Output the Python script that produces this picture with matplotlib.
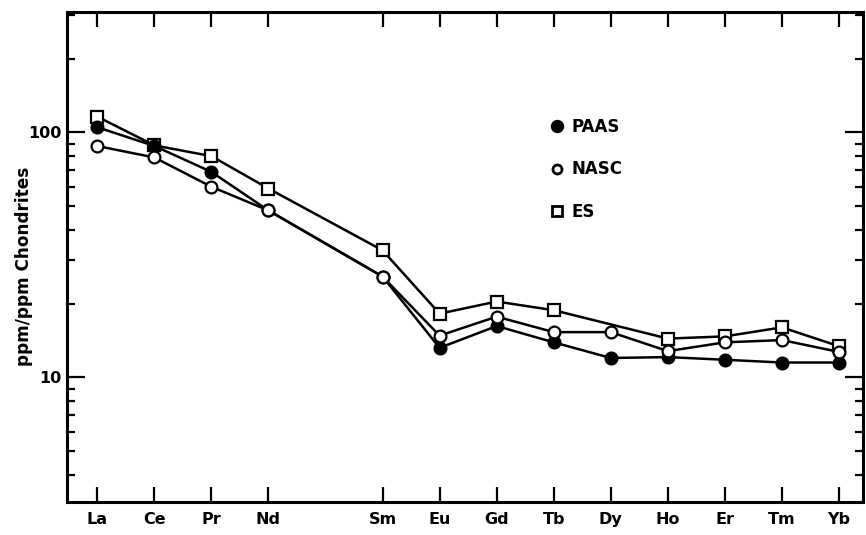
import matplotlib
matplotlib.use('Agg')
import matplotlib.pyplot as plt
from matplotlib.lines import Line2D
from matplotlib.ticker import LogLocator, NullFormatter

# REE, x = atomic number (Pm left out)
elements = ['La', 'Ce', 'Pr', 'Nd', 'Sm', 'Eu', 'Gd', 'Tb', 'Dy', 'Ho', 'Er', 'Tm', 'Yb']
atomic_no = [57, 58, 59, 60, 62, 63, 64, 65, 66, 67, 68, 69, 70]

# chondrite-normalised values
paas = [105, 88, 69, 48, 25.8, 13.2, 16.2, 13.9, 12.0, 12.1, 11.8, 11.5, 11.5]
nasc = [88, 79, 60, 48, 25.8, 14.8, 17.7, 15.3, 15.3, 12.8, 13.9, 14.2, 12.7]
es = [116, 88.5, 80, 59, 33, 18.2, 20.4, 18.8, None, 14.4, 14.7, 16.0, 13.4]  # no Dy point

fig = plt.figure(figsize=(8.66, 5.35), dpi=100)
ax = fig.add_axes([67/866, 1 - 502/535, 796/866, 490/535])

def draw(vals, marker, face, ms):
    xs = [x for x, v in zip(atomic_no, vals) if v is not None]
    ys = [v for v in vals if v is not None]
    ax.plot(xs, ys, color='black', lw=1.8, marker=marker, ms=ms,
            mfc=face, mec='black', mew=1.6, zorder=3)

draw(es, 's', 'white', 9)
draw(paas, 'o', 'black', 8.5)
draw(nasc, 'o', 'white', 8.5)

ax.set_yscale('log')
ax.set_ylim(3.1, 310)
ax.set_xlim(56.47, 70.42)
ax.set_xticks(atomic_no)
ax.set_xticklabels(elements, fontsize=11.5, fontweight='bold')
ax.set_yticks([10, 100])
ax.set_yticklabels(['10', '100'], fontsize=11.5, fontweight='bold')
ax.yaxis.set_minor_locator(LogLocator(base=10, subs=range(2, 10)))
ax.yaxis.set_minor_formatter(NullFormatter())

ax.tick_params(axis='x', which='major', direction='in', length=11, width=1.6,
               top=True, bottom=True, pad=7)
ax.tick_params(axis='y', which='major', direction='in', length=13, width=1.6,
               left=True, right=True, pad=4)
ax.tick_params(axis='y', which='minor', direction='in', length=6, width=1.6,
               left=True, right=True)
for s in ax.spines.values():
    s.set_linewidth(2.2)

ax.set_ylabel('ppm/ppm Chondrites', fontsize=12.2, fontweight='bold')
ax.yaxis.set_label_coords(-0.043, 0.48)

handles = [Line2D([], [], ls='none', marker='o', mfc='black', mec='black', ms=8, mew=1.6),
           Line2D([], [], ls='none', marker='o', mfc='white', mec='black', ms=6.5, mew=2),
           Line2D([], [], ls='none', marker='s', mfc='white', mec='black', ms=6.5, mew=2)]
ax.legend(handles, ['PAAS', 'NASC', 'ES'], loc='upper left', bbox_to_anchor=(0.605, 0.783),
          frameon=False, prop={'size': 12, 'weight': 'bold'}, labelspacing=1.45,
          handletextpad=0.4, handlelength=1.0, borderpad=0, borderaxespad=0)

fig.savefig('out.png', dpi=100)
